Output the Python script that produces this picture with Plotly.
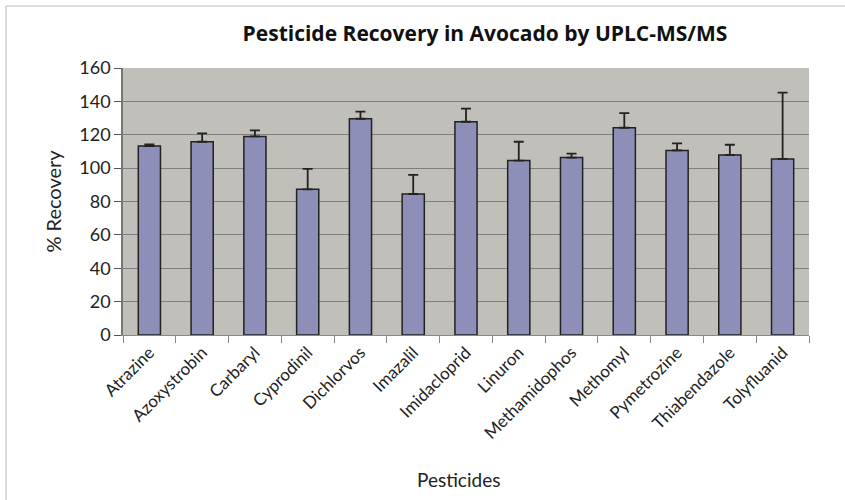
import plotly.graph_objects as go

pesticides = ["Atrazine", "Azoxystrobin", "Carbaryl", "Cyprodinil", "Dichlorvos",
              "Imazalil", "Imidacloprid", "Linuron", "Methamidophos", "Methomyl",
              "Pymetrozine", "Thiabendazole", "Tolyfluanid"]
recovery = [113.2, 115.8, 119.0, 87.3, 129.6, 84.5, 127.8, 104.5, 106.3, 124.2, 110.6, 107.9, 105.5]
error_plus = [1.0, 5.0, 3.6, 12.2, 4.2, 11.4, 7.8, 11.3, 2.4, 8.8, 4.2, 6.1, 39.7]
error_minus = [0] * len(recovery)
y_ticks = [0, 20, 40, 60, 80, 100, 120, 140, 160]

W, H = 845, 500
L, R, T, B = 123, 36, 68, 165

fig = go.Figure()
fig.add_trace(go.Bar(
    x=pesticides, y=recovery,
    marker=dict(color="#8D8FB8", line=dict(color="#222222", width=1.5)),
    width=0.42,
    error_y=dict(type="data", array=error_plus, arrayminus=error_minus, symmetric=False,
                 color="#222222", thickness=1.8, width=5),
))

font_family = "Lato, Open Sans, sans-serif"

def px_to_paper_x(px):
    return (px - L) / (W - L - R)

def px_to_paper_y(py):
    return (H - B - py) / (H - T - B)

fig.update_layout(
    width=W, height=H,
    margin=dict(l=L, r=R, t=T, b=B),
    paper_bgcolor="white",
    plot_bgcolor="#C0BFBA",
    showlegend=False,
    title=dict(text="<b>Pesticide Recovery in Avocado by UPLC-MS/MS</b>",
               x=px_to_paper_x(485), xanchor="center", xref="paper", y=1 - 34 / H, yanchor="middle",
               font=dict(family="Open Sans, sans-serif", size=21, color="#111111")),
    font=dict(family=font_family, color="#222222"),
    xaxis=dict(
        tickangle=-45, tickfont=dict(size=17, color="#222222"),
        ticks="outside", ticklen=7, tickcolor="#888888", tickson="boundaries",
        showline=True, linecolor="#888888", linewidth=1,
    ),
    yaxis=dict(
        range=[0, 160], tickvals=y_ticks, tickfont=dict(size=18, color="#222222"),
        ticks="outside", ticklen=7, tickcolor="#555555",
        showline=True, linecolor="#777777", linewidth=1.5,
        showgrid=True, gridcolor="#7F7F7F", gridwidth=1.3,
        zeroline=False,
        title=dict(text="% Recovery", font=dict(size=20, color="#222222"), standoff=12),
    ),
    annotations=[
        dict(text="Pesticides", xref="paper", yref="paper",
             x=px_to_paper_x(458), y=px_to_paper_y(479), xanchor="center", yanchor="middle",
             showarrow=False, font=dict(size=19, color="#222222")),
    ],
    shapes=[
        dict(type="line", xref="paper", yref="paper",
             x0=px_to_paper_x(6), x1=px_to_paper_x(845), y0=px_to_paper_y(6), y1=px_to_paper_y(6),
             line=dict(color="#D0D0D0", width=1.5)),
        dict(type="line", xref="paper", yref="paper",
             x0=px_to_paper_x(6), x1=px_to_paper_x(6), y0=px_to_paper_y(6), y1=px_to_paper_y(500),
             line=dict(color="#D0D0D0", width=1.5)),
    ],
)

fig.write_html("out.html", config={"displayModeBar": False},
               post_script="document.body.style.margin='0px';")
